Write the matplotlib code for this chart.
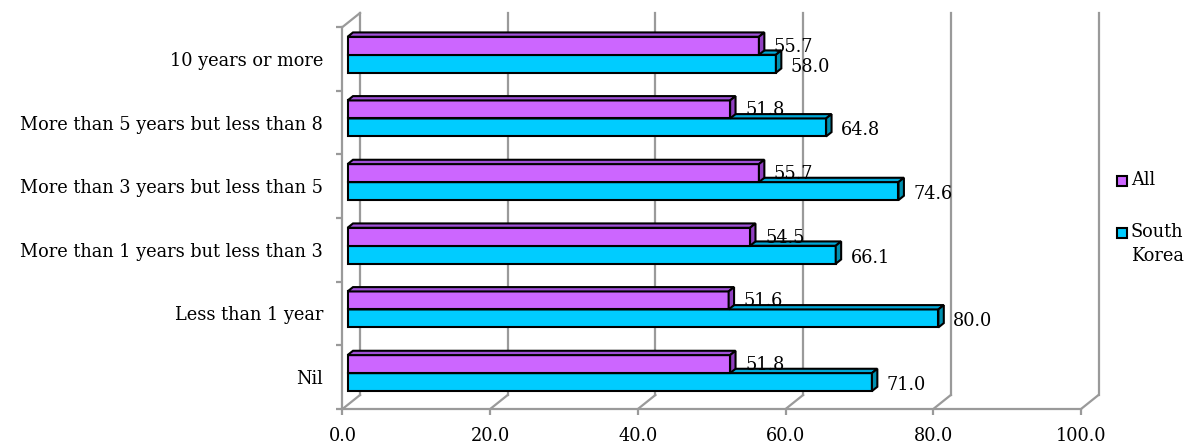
import matplotlib.pyplot as plt
from matplotlib.patches import Polygon, Rectangle

# data (top to bottom as shown)
categories = ['10 years or more', 'More than 5 years but less than 8',
              'More than 3 years but less than 5', 'More than 1 years but less than 3',
              'Less than 1 year', 'Nil']
all_vals = [55.7, 51.8, 55.7, 54.5, 51.6, 51.8]
korea_vals = [58.0, 64.8, 74.6, 66.1, 80.0, 71.0]
series_names = ['All', 'South\nKorea']
xticks = [0, 20, 40, 60, 80, 100]

FONT = 'DejaVu Serif'
FS = 12.8
GRID = '#9a9a9a'

fig = plt.figure(figsize=(11.94, 4.46), dpi=100)
ax = fig.add_axes([342.5 / 1194, 37 / 446, 738.5 / 1194, 382 / 446])
ax.set_xlim(0, 100)
ax.set_ylim(-0.5, 5.5)
for s in ax.spines.values():
    s.set_visible(False)

# 3D depth in data units
DX = 17.5 / 7.385
DY = 14 / 63.67
f0, f1 = 0.29, 0.60
bh = 18 / 63.67

# back wall gridlines and floor
for v in xticks:
    ax.plot([v + DX, v + DX], [-0.5 + DY, 5.5 + DY], color=GRID, lw=1.6, clip_on=False, zorder=1)
    ax.plot([v, v + DX], [-0.5, -0.5 + DY], color=GRID, lw=1.6, clip_on=False, zorder=1)
ax.plot([0, 100], [-0.5, -0.5], color=GRID, lw=1.6, clip_on=False, zorder=1)
ax.plot([0, 0], [-0.5, 5.5], color=GRID, lw=1.6, clip_on=False, zorder=1)
ax.plot([0, DX], [5.5, 5.5 + DY], color=GRID, lw=1.6, clip_on=False, zorder=1)

n = len(categories)
ypos = [n - 1 - i for i in range(n)]

x0 = f0 * DX
y_shift = f0 * DY
ddx = (f1 - f0) * DX
ddy = (f1 - f0) * DY


def draw_bar(y_bot, val, front, top, side, z):
    y_top = y_bot + bh
    ax.barh(y_bot, val, height=bh, left=x0, align='edge', color=front,
            edgecolor='black', lw=1.5, zorder=z)
    xe = x0 + val
    ax.add_patch(Polygon([(x0, y_top), (xe, y_top), (xe + ddx, y_top + ddy), (x0 + ddx, y_top + ddy)],
                         closed=True, fc=top, ec='black', lw=1.5, zorder=z))
    ax.add_patch(Polygon([(xe, y_bot), (xe, y_top), (xe + ddx, y_top + ddy), (xe + ddx, y_bot + ddy)],
                         closed=True, fc=side, ec='black', lw=1.5, zorder=z))


for i in range(n):
    yc = ypos[i] + y_shift
    draw_bar(yc - bh, korea_vals[i], '#00CCFF', '#00A8D8', '#0090B0', 3)
    draw_bar(yc, all_vals[i], '#CC66FF', '#A050D8', '#9040C0', 4)
    ax.annotate(f'{all_vals[i]:.1f}', (x0 + all_vals[i], yc + bh / 2), xytext=(15, -1),
                textcoords='offset pixels', va='center', ha='left', fontsize=FS, family=FONT, zorder=5)
    ax.annotate(f'{korea_vals[i]:.1f}', (x0 + korea_vals[i], yc - bh / 2), xytext=(15, -3),
                textcoords='offset pixels', va='center', ha='left', fontsize=FS, family=FONT, zorder=5)

ax.set_xticks(xticks)
ax.set_xticklabels([f'{v:.1f}' for v in xticks], fontsize=FS, family=FONT)
ax.set_yticks(ypos)
ax.set_yticklabels(categories, fontsize=FS, family=FONT)
ax.set_yticks([k - 0.5 for k in range(n + 1)], minor=True)
ax.tick_params(axis='x', length=4, color=GRID, width=1.6, pad=9)
ax.tick_params(axis='y', which='major', length=0, pad=14)
ax.tick_params(axis='y', which='minor', length=4.5, color=GRID, width=1.6)

# legend
colors = ['#CC66FF', '#00CCFF']
leg_y = [181, 233]
for c, name, yy in zip(colors, series_names, leg_y):
    fig.patches.append(Rectangle((1117 / 1194, 1 - (yy + 5) / 446), 10 / 1194, 10 / 446,
                                 transform=fig.transFigure, fc=c, ec='black', lw=1.5))
    fig.text(1131 / 1194, 1 - (yy - 10) / 446, name, fontsize=FS, family=FONT, va='top', ha='left',
             linespacing=1.45)

fig.savefig('out.png', dpi=100)
